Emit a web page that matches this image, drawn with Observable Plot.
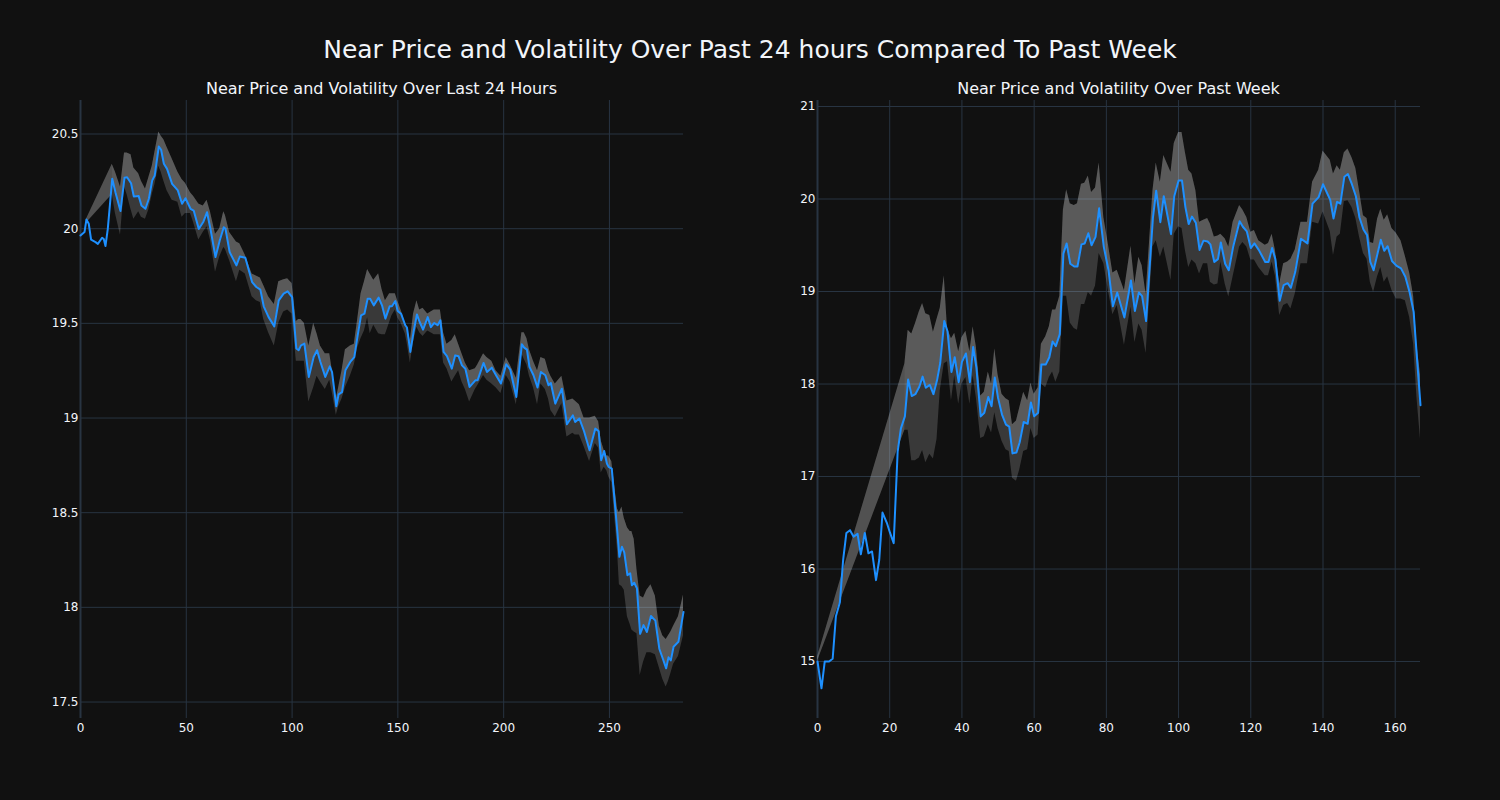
<!DOCTYPE html>
<html><head><meta charset="utf-8">
<script src="https://cdn.jsdelivr.net/npm/d3@7"></script>
<script src="https://cdn.jsdelivr.net/npm/@observablehq/plot@0.6"></script>
<style>
html,body{margin:0;padding:0;background:#111111;}
#wrap{position:relative;width:1500px;height:800px;background:#111111;font-family:"DejaVu Sans",sans-serif;color:#f2f5fa;overflow:hidden;}
.title{position:absolute;left:0;width:1500px;top:37px;text-align:center;font-size:25px;line-height:25px;white-space:nowrap;}
.sub{position:absolute;top:80.5px;font-size:16px;line-height:16px;text-align:center;white-space:nowrap;}
.panel{position:absolute;top:0;}
</style></head><body>
<div id="wrap">
  <div class="title">Near Price and Volatility Over Past 24 hours Compared To Past Week</div>
  <div class="sub" style="left:80px;width:603px;">Near Price and Volatility Over Last 24 Hours</div>
  <div class="sub" style="left:817px;width:603px;">Near Price and Volatility Over Past Week</div>
  <div class="panel" id="left" style="left:0px;"></div>
  <div class="panel" id="right" style="left:750px;"></div>
</div>
<script>
// ---- Last 24 hours ----
const leftX = [0,1.9,2.8,3.9,5.0,7.1,8.2,10.2,11.0,11.8,
12.9,15.0,16.5,18.9,20.8,22.0,23.9,25.2,27.5,28.8,
30.7,32.3,33.9,35.1,37.0,38.1,39.4,40.9,43.3,46.0,
48.0,49.6,52.0,53.5,55.9,58.0,59.8,61.4,63.8,65.8,
67.7,68.5,70.5,73.7,75.3,77.9,81.1,83.1,85.0,86.6,
88.9,91.6,93.7,96.0,97.9,100.0,102.0,103.1,104.2,105.8,
107.9,110.2,111.8,113.4,115.7,117.8,118.9,120.9,122.0,123.6,
125.2,127.5,129.4,131.0,132.6,134.2,135.7,136.9,138.6,140.9,
142.5,144.1,146.1,147.2,148.8,149.9,151.5,153.5,154.3,155.9,
157.4,159.0,160.3,161.9,164.1,165.6,167.2,168.8,170.1,171.6,
173.2,175.5,177.1,178.7,180.3,181.9,183.9,186.6,187.7,190.5,
192.1,194.4,196.4,198.7,201.2,203.1,206.0,208.6,209.7,211.0,
212.2,214.1,216.0,217.6,219.7,221.2,222.3,224.4,227.5,229.9,
232.7,233.8,235.8,238.0,240.6,243.3,244.9,246.1,247.5,248.8,
249.6,251.1,252.7,253.8,254.7,255.9,257.0,258.5,259.8,260.6,
261.7,263.0,264.5,266.1,267.7,269.6,271.7,273.6,275.2,276.8,
277.9,279.0,280.3,282.6,285];
const leftPrice = [19.964,19.982,20.049,20.026,19.942,19.929,19.92,19.952,19.945,19.908,
19.999,20.264,20.193,20.093,20.269,20.272,20.24,20.170,20.172,20.123,
20.105,20.158,20.255,20.281,20.434,20.417,20.343,20.316,20.237,20.202,
20.132,20.161,20.105,20.096,19.999,20.035,20.087,20.0,19.85,19.938,
20.008,20.0,19.876,19.806,19.853,19.847,19.718,19.692,19.678,19.590,
19.533,19.484,19.621,19.657,19.669,19.639,19.367,19.358,19.384,19.393,
19.217,19.322,19.358,19.296,19.217,19.273,19.243,19.062,19.125,19.137,
19.252,19.296,19.322,19.437,19.542,19.551,19.630,19.63,19.595,19.636,
19.595,19.525,19.590,19.59,19.618,19.565,19.551,19.49,19.478,19.349,
19.454,19.547,19.507,19.467,19.533,19.48,19.502,19.49,19.516,19.349,
19.327,19.261,19.331,19.326,19.278,19.26,19.164,19.199,19.2,19.291,
19.243,19.266,19.226,19.182,19.284,19.256,19.111,19.389,19.372,19.361,
19.27,19.226,19.161,19.243,19.226,19.173,19.185,19.076,19.155,18.967,
19.014,18.979,18.997,18.93,18.830,18.944,18.93,18.777,18.826,18.760,
18.742,18.733,18.531,18.39,18.267,18.32,18.29,18.17,18.18,18.117,
18.13,18.1,17.86,17.906,17.87,17.954,17.93,17.78,17.73,17.678,
17.736,17.72,17.792,17.818,17.976];
const leftUpper = [null,null,20.05,null,null,null,null,null,null,null,
null,20.34,20.30,20.22,20.40,20.40,20.39,20.32,20.29,20.25,
20.21,20.27,20.33,20.40,20.51,20.49,20.47,20.43,20.37,20.30,
20.26,20.24,20.19,20.17,20.13,20.12,20.15,20.09,19.97,20.00,
20.09,20.07,19.98,19.93,19.92,19.86,19.76,19.75,19.74,19.70,
19.64,19.60,19.72,19.73,19.735,19.71,19.51,19.52,19.52,19.50,
19.38,19.50,19.445,19.38,19.34,19.34,19.26,19.10,19.16,19.25,
19.36,19.38,19.39,19.52,19.656,19.72,19.785,19.76,19.727,19.762,
19.68,19.62,19.656,19.656,19.656,19.62,19.57,19.50,19.48,19.41,
19.55,19.62,19.57,19.58,19.55,19.56,19.57,19.57,19.57,19.45,
19.39,19.41,19.44,19.39,19.34,19.29,19.25,19.26,19.28,19.34,
19.32,19.30,19.25,19.22,19.32,19.28,19.21,19.45,19.45,19.42,
19.36,19.30,19.25,19.32,19.31,19.25,19.22,19.18,19.22,19.09,
19.10,19.09,19.07,19.0,19.0,19.01,18.98,18.88,18.83,18.80,
18.80,18.77,18.62,18.52,18.50,18.53,18.47,18.42,18.40,18.40,
18.36,18.20,18.06,18.05,18.09,18.12,18.06,17.90,17.85,17.83,
17.85,17.87,17.90,17.95,18.065];
const leftLower = [null,null,20.03,null,null,null,null,null,null,null,
null,20.18,20.08,19.965,20.22,20.18,20.10,20.05,20.09,20.06,
20.05,20.10,20.18,20.23,20.33,20.30,20.25,20.20,20.15,20.14,
20.06,20.08,20.08,20.03,19.94,19.98,20.01,19.94,19.77,19.85,
19.90,19.89,19.83,19.72,19.78,19.76,19.64,19.62,19.61,19.52,
19.45,19.38,19.50,19.56,19.57,19.55,19.30,19.30,19.30,19.30,
19.085,19.16,19.22,19.19,19.15,19.20,19.14,19.015,19.06,19.10,
19.16,19.22,19.28,19.37,19.42,19.46,19.53,19.445,19.49,19.445,
19.44,19.44,19.505,19.54,19.57,19.53,19.50,19.445,19.40,19.29,
19.40,19.48,19.45,19.43,19.46,19.45,19.44,19.44,19.44,19.29,
19.26,19.19,19.22,19.25,19.19,19.15,19.085,19.15,19.17,19.225,
19.20,19.18,19.16,19.13,19.225,19.19,19.07,19.34,19.31,19.28,
19.22,19.16,19.07,19.18,19.15,19.10,19.04,19.005,19.075,18.90,
18.92,18.91,18.91,18.85,18.77,18.865,18.84,18.71,18.74,18.72,
18.69,18.66,18.45,18.30,18.12,18.11,18.09,17.95,17.91,17.88,
17.87,17.86,17.64,17.71,17.76,17.76,17.75,17.68,17.62,17.58,
17.61,17.65,17.70,17.74,17.85];
const leftXTicks = [0,50,100,150,200,250];
const leftYTicks = [17.5,18,18.5,19,19.5,20,20.5];

// ---- Past week ----
const rightX = [0,1.1,2.0,3.2,4.2,5.1,6.2,7.1,8.0,9.0,
10.0,11.1,12.0,13.1,14.1,15.1,16.2,17.1,18.0,19.2,
20.1,21.1,22.2,23.1,24.2,25.1,26.1,27.1,28.2,29.1,
30.0,31.1,32.1,33.1,34.0,35.1,36.0,37.1,38.0,39.1,
40.0,41.1,42.2,43.1,44.0,45.2,46.2,47.3,48.2,49.1,
50.0,51.1,52.2,53.1,54.0,55.1,56.0,57.1,58.2,59.1,
60.0,61.1,62.0,63.2,64.2,65.1,66.0,67.1,68.1,69.0,
70.0,71.1,72.0,73.1,74.0,75.0,75.9,77.0,78.0,79.3,
80.6,81.8,83.0,85.0,86.8,87.9,89.0,89.9,91.0,92.9,
93.8,94.95,95.9,97.9,98.8,100.0,100.95,101.9,102.8,103.7,
104.8,105.8,106.9,108.05,108.8,109.9,110.9,111.7,112.9,113.9,
115.1,116.9,117.8,118.9,120.0,121.0,122.2,124.0,124.9,125.9,
126.8,128.0,129.1,130.2,131.1,132.3,133.9,135.7,137.1,138.8,
140.0,142.0,142.9,143.9,144.8,145.9,146.9,148.0,149.1,150.1,
151.2,152.2,153.1,154.0,155.1,156.0,156.95,157.9,159.1,160.3,
161.6,162.8,164.0,165.1,166.0,167.0];
const rightPrice = [15.0,14.71,15.0,15.0,15.03,15.49,15.64,16.10,16.39,16.42,
16.35,16.38,16.16,16.39,16.17,16.19,15.88,16.10,16.61,16.50,
16.39,16.28,17.27,17.52,17.65,18.05,17.87,17.89,17.97,18.08,
17.96,17.99,17.89,18.04,18.23,18.68,18.57,18.13,18.29,18.02,
18.24,18.33,18.02,18.40,18.18,17.65,17.69,17.86,17.76,18.07,
17.85,17.67,17.56,17.54,17.25,17.26,17.37,17.59,17.57,17.80,
17.65,17.69,18.21,18.21,18.29,18.46,18.41,18.54,19.41,19.52,
19.30,19.27,19.27,19.51,19.52,19.63,19.50,19.59,19.90,19.48,
19.23,18.84,18.99,18.72,19.12,18.79,18.99,18.95,18.68,19.80,
20.09,19.75,20.03,19.62,20.03,20.20,20.20,19.91,19.73,19.81,
19.74,19.45,19.55,19.54,19.51,19.32,19.35,19.53,19.30,19.23,
19.48,19.76,19.70,19.65,19.47,19.52,19.45,19.32,19.32,19.47,
19.35,18.90,19.07,19.09,19.04,19.21,19.57,19.52,19.95,20.02,
20.16,19.99,19.79,19.97,19.95,20.24,20.27,20.16,20.03,19.80,
19.67,19.61,19.32,19.23,19.41,19.56,19.44,19.49,19.33,19.28,
19.25,19.16,18.99,18.78,18.29,17.77];
const rightUpper = [15.05,null,null,null,null,null,null,null,null,null,
null,null,null,null,null,null,null,null,null,null,
null,null,null,null,18.22,18.58,18.54,18.65,18.78,18.87,
18.76,18.74,18.56,18.70,18.82,19.17,18.60,18.49,18.55,18.35,
18.50,18.57,18.35,18.62,18.40,17.87,17.91,18.13,18.00,18.38,
18.10,17.89,17.84,17.82,17.56,17.60,17.74,17.91,17.82,18.01,
17.89,17.96,18.43,18.51,18.62,18.80,18.80,18.95,19.88,20.10,
19.95,19.93,19.95,20.16,20.17,20.25,20.07,20.12,20.39,19.80,
19.50,19.20,19.23,19.01,19.49,19.08,19.37,19.28,18.97,20.09,
20.39,20.18,20.47,20.29,20.60,20.72,20.72,20.50,20.31,20.27,
20.09,19.75,19.77,19.79,19.73,19.59,19.60,19.62,19.57,19.48,
19.75,19.93,19.88,19.80,19.64,19.66,19.55,19.50,19.52,19.62,
19.45,19.08,19.30,19.32,19.35,19.45,19.75,19.75,20.18,20.31,
20.52,20.42,20.27,20.36,20.31,20.50,20.54,20.45,20.33,20.09,
19.82,19.79,19.53,19.52,19.78,19.89,19.77,19.83,19.68,19.63,
19.55,19.38,19.20,18.95,18.43,18.10];
const rightLower = [15.0,null,null,null,null,null,null,null,null,null,
null,null,null,null,null,null,null,null,null,null,
null,null,null,null,17.50,17.50,17.17,17.17,17.20,17.28,
17.15,17.24,17.19,17.40,17.93,18.22,18.24,17.82,18.09,17.78,
18.00,18.07,17.78,18.09,17.85,17.41,17.43,17.56,17.47,17.69,
17.52,17.38,17.29,17.27,16.98,16.95,17.07,17.27,17.29,17.52,
17.41,17.45,18.00,17.96,18.07,18.13,18.02,18.13,18.95,18.95,
18.66,18.60,18.58,18.86,18.86,18.99,18.95,19.06,19.41,19.30,
19.00,18.75,18.85,18.42,18.83,18.45,18.65,18.58,18.33,19.48,
19.55,19.37,19.48,19.12,19.62,19.70,19.68,19.44,19.26,19.34,
19.30,19.19,19.30,19.30,19.10,19.07,19.08,19.32,19.08,18.94,
19.16,19.48,19.53,19.48,19.34,19.34,19.26,19.17,19.17,19.32,
19.17,18.74,18.85,18.87,18.81,18.97,19.30,19.30,19.75,19.73,
19.86,19.65,19.39,19.59,19.62,19.97,19.98,19.91,19.79,19.59,
19.41,19.35,19.10,18.99,19.16,19.26,19.10,19.16,19.01,18.92,
18.92,18.90,18.72,18.43,17.86,17.40];
const rightXTicks = [0,20,40,60,80,100,120,140,160];
const rightYTicks = [15,16,17,18,19,20,21];

function panel(xs, price, upper, lower, fullFrom, xDomain, yDomain, xTicks, yTicks, ml, mr) {
  const rows = xs.map((x, i) => ({x, p: price[i], u: upper[i], l: lower[i]}));
  const band = rows.filter(d => d.u != null && d.l != null);
  const full = band.filter(d => d.x >= fullFrom);
  const lead = band.filter(d => d.x <= fullFrom);
  return Plot.plot({
    width: 750, height: 800,
    marginLeft: ml, marginRight: mr, marginTop: 100, marginBottom: 82,
    style: {background: "transparent", color: "#f2f5fa", fontFamily: "'DejaVu Sans', sans-serif", fontSize: "12px", overflow: "visible"},
    x: {domain: xDomain},
    y: {domain: yDomain},
    marks: [
      Plot.gridX(xTicks, {stroke: "#283442", strokeOpacity: 1}),
      Plot.gridY(yTicks, {stroke: "#283442", strokeOpacity: 1}),
      Plot.ruleX([0], {stroke: "#283442", strokeWidth: 2}),
      Plot.areaY(band, {x: "x", y1: "l", y2: "u", fill: "#ffffff", fillOpacity: 0.17}),
      Plot.areaY(lead, {x: "x", y1: "l", y2: "u", fill: "#ffffff", fillOpacity: 0.12}),
      Plot.areaY(full, {x: "x", y1: "p", y2: "u", fill: "#ffffff", fillOpacity: 0.17}),
      Plot.lineY(rows, {x: "x", y: "p", stroke: "#1E90FF", strokeWidth: 2}),
      Plot.axisX(xTicks, {tickSize: 0, tickPadding: 5, label: null}),
      Plot.axisY(yTicks, {tickSize: 0, tickPadding: 2, label: null, tickFormat: d => String(d)})
    ]
  });
}

document.getElementById("left").append(
  panel(leftX, leftPrice, leftUpper, leftLower, 15, [0, 285], [17.413, 20.677], leftXTicks, leftYTicks, 80, 67));
document.getElementById("right").append(
  panel(rightX, rightPrice, rightUpper, rightLower, 24.2, [0, 167], [14.384, 21.065], rightXTicks, rightYTicks, 67, 80));
</script>
</body></html>
